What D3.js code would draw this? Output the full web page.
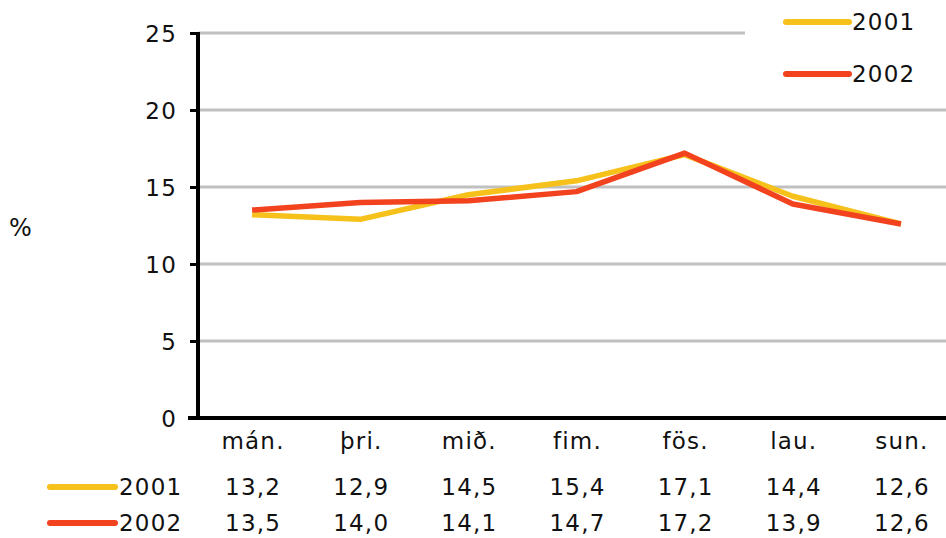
<!DOCTYPE html>
<html>
<head>
<meta charset="utf-8">
<script src="https://cdn.jsdelivr.net/npm/d3@7"></script>
<style>
body { margin: 0; background: #fff; }
text { font-family: "DejaVu Sans", Verdana, sans-serif; fill: #111; }
</style>
</head>
<body>
<div id="chart"></div>
<script>
var width = 946;
var height = 538;

// data
var days = ["mán.", "þri.", "mið.", "fim.", "fös.", "lau.", "sun."];
var seriesNames = ["2001", "2002"];
var values2001 = [13.2, 12.9, 14.5, 15.4, 17.1, 14.4, 12.6];
var values2002 = [13.5, 14.0, 14.1, 14.7, 17.2, 13.9, 12.6];
var yTicks = [0, 5, 10, 15, 20, 25];

var colors = { "2001": "#F5C11A", "2002": "#F2421E" };
var series = [
    { name: seriesNames[0], values: values2001 },
    { name: seriesNames[1], values: values2002 }
];

var m = { left: 198, right: 955, top: 33, bottom: 418 };
var fs = 23;
var ls = "1.2px";

var svg = d3.select("#chart").append("svg")
    .attr("width", width)
    .attr("height", height);

var x = d3.scalePoint()
    .domain(days)
    .range([m.left, m.right])
    .padding(0.5);

var y = d3.scaleLinear()
    .domain([0, 25])
    .range([m.bottom, m.top]);

// gridlines
svg.append("g").selectAll("line")
    .data(yTicks.filter(function(d) { return d > 0; }))
    .enter().append("line")
    .attr("x1", m.left)
    .attr("x2", width)
    .attr("y1", function(d) { return y(d); })
    .attr("y2", function(d) { return y(d); })
    .style("stroke", "#c0c0c0")
    .style("stroke-width", 3);

// y axis
var yAxis = svg.append("g")
    .attr("transform", "translate(" + m.left + ",0)")
    .call(d3.axisLeft(y).tickValues(yTicks).tickSize(8).tickPadding(13));
yAxis.select(".domain").remove();
yAxis.selectAll(".tick line").style("stroke", "#000").style("stroke-width", 3);
yAxis.selectAll("text")
    .style("font-size", fs + "px")
    .style("letter-spacing", ls)
    .attr("dy", "0.36em")
    .attr("fill", "#111");
yAxis.append("line")
    .attr("x1", 0).attr("x2", 0)
    .attr("y1", m.top - 1).attr("y2", m.bottom + 2)
    .style("stroke", "#000").style("stroke-width", 4);

// x axis
svg.append("line")
    .attr("x1", m.left - 10).attr("x2", width)
    .attr("y1", m.bottom).attr("y2", m.bottom)
    .style("stroke", "#000").style("stroke-width", 4);

svg.append("g").selectAll("text")
    .data(days)
    .enter().append("text")
    .attr("x", function(d) { return x(d) + 1; })
    .attr("y", 449)
    .attr("text-anchor", "middle")
    .style("font-size", fs + "px")
    .style("letter-spacing", ls)
    .text(function(d) { return d; });

svg.append("text")
    .attr("x", 9).attr("y", 236)
    .style("font-size", "24px")
    .text("%");

// lines
var line = d3.line()
    .x(function(d, i) { return x(days[i]); })
    .y(function(d) { return y(d); });

svg.append("g").selectAll("path")
    .data(series)
    .enter().append("path")
    .attr("d", function(d) { return line(d.values); })
    .style("fill", "none")
    .style("stroke", function(d) { return colors[d.name]; })
    .style("stroke-width", 5.5)
    .style("stroke-linejoin", "round");

// legend box
var legend = svg.append("g");
legend.append("rect")
    .attr("x", 745).attr("y", 0)
    .attr("width", width - 745).attr("height", 98)
    .style("fill", "#fff");
var li = legend.selectAll("g")
    .data(series)
    .enter().append("g")
    .attr("transform", function(d, i) { return "translate(0," + (22 + i * 52) + ")"; });
li.append("line")
    .attr("x1", 786).attr("x2", 849)
    .style("stroke", function(d) { return colors[d.name]; })
    .style("stroke-width", 6)
    .style("stroke-linecap", "round");
li.append("text")
    .attr("x", 852).attr("dy", "0.36em")
    .style("font-size", fs + "px")
    .style("letter-spacing", ls)
    .text(function(d) { return d.name; });

// data table
var rows = svg.append("g").selectAll("g")
    .data(series)
    .enter().append("g")
    .attr("transform", function(d, i) { return "translate(0," + (495 + i * 36) + ")"; });
rows.append("line")
    .attr("x1", 50).attr("x2", 115)
    .attr("y1", -8).attr("y2", -8)
    .style("stroke", function(d) { return colors[d.name]; })
    .style("stroke-width", 6)
    .style("stroke-linecap", "round");
rows.append("text")
    .attr("x", 119).attr("y", 0)
    .style("font-size", fs + "px")
    .style("letter-spacing", ls)
    .text(function(d) { return d.name; });
rows.selectAll(".val")
    .data(function(d) { return d.values; })
    .enter().append("text")
    .attr("class", "val")
    .attr("x", function(d, i) { return x(days[i]) + 1; })
    .attr("y", 0)
    .attr("text-anchor", "middle")
    .style("font-size", fs + "px")
    .style("letter-spacing", ls)
    .text(function(d) { return d.toFixed(1).replace(".", ","); });
</script>
</body>
</html>
